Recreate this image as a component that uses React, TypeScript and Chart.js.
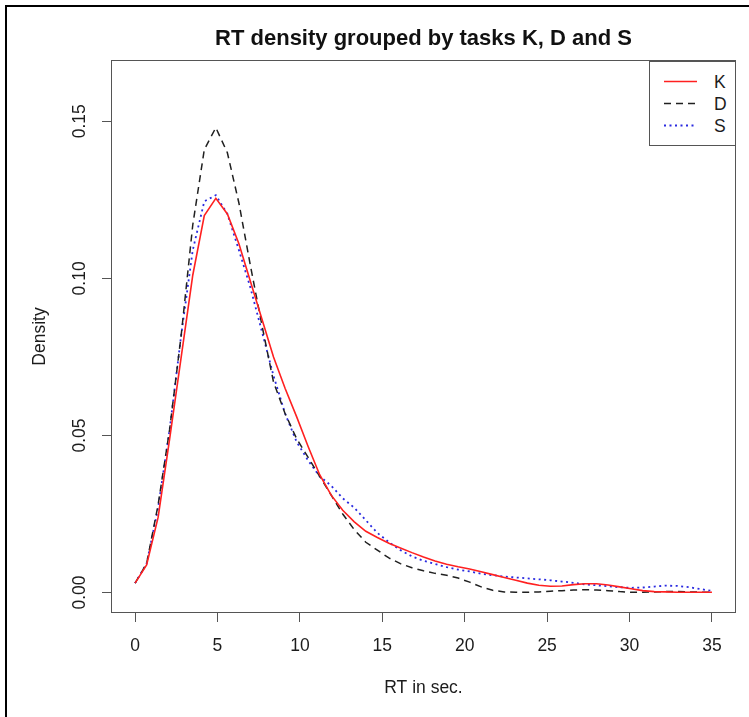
import React, { useEffect, useRef } from "react";
import { Chart, registerables } from "chart.js";

Chart.register(...registerables);

const TITLE = "RT density grouped by tasks K, D and S";
const X_TITLE = "RT in sec.";
const Y_TITLE = "Density";

const seriesNames = ["K", "D", "S"];

const rtGrid = [
  0, 0.7, 1.4, 2.1, 2.8, 3.5, 4.2, 4.9, 5.6, 6.3, 7.0, 7.7, 8.4, 9.1, 9.8, 10.5,
  11.2, 11.9, 12.6, 13.3, 14.0, 14.7, 15.4, 16.1, 16.8, 17.5, 18.2, 18.9, 19.6,
  20.3, 21.0, 21.7, 22.4, 23.1, 23.8, 24.5, 25.2, 25.9, 26.6, 27.3, 28.0, 28.7,
  29.4, 30.1, 30.8, 31.5, 32.2, 32.9, 33.6, 34.3, 35.0,
];

const densityK = [
  0.003, 0.0088, 0.024, 0.049, 0.075, 0.101, 0.12, 0.1255, 0.1205, 0.111,
  0.099, 0.087, 0.075, 0.065, 0.056, 0.0465, 0.0375, 0.031, 0.0262, 0.0225,
  0.0195, 0.0175, 0.0157, 0.0142, 0.0127, 0.0113, 0.01, 0.009, 0.0082, 0.0075,
  0.0066, 0.0057, 0.0048, 0.0039, 0.003, 0.0023, 0.002, 0.0021, 0.0025, 0.0028,
  0.0028, 0.0024, 0.0018, 0.0012, 0.0006, 0.0003, 0.0002, 0.0001, 0.0001, 0.0001,
  0.0001,
];

const densityD = [
  0.003, 0.0092, 0.028, 0.052, 0.082, 0.117, 0.141, 0.148, 0.14, 0.124,
  0.104, 0.085, 0.067, 0.057, 0.049, 0.043, 0.037, 0.031, 0.025, 0.02,
  0.016, 0.0135, 0.011, 0.0092, 0.0079, 0.0069, 0.0061, 0.0055, 0.0046, 0.0033,
  0.0018, 0.0007, 0.0002, 0.0001, 0.0001, 0.0002, 0.0004, 0.0006, 0.0008, 0.0009,
  0.0008, 0.0006, 0.0003, 0.0001, 0.0001, 0.0002, 0.0003, 0.0003, 0.0002, 0.0001,
  0.0001,
];

const densityS = [
  0.003, 0.0092, 0.027, 0.052, 0.082, 0.109, 0.1245, 0.1265, 0.1205, 0.109,
  0.097, 0.083, 0.069, 0.057, 0.048, 0.042, 0.037, 0.034, 0.03, 0.027,
  0.023, 0.019, 0.016, 0.0135, 0.0115, 0.0101, 0.0091, 0.0081, 0.0073, 0.0067,
  0.006, 0.0055, 0.0051, 0.0048, 0.0045, 0.0042, 0.0039, 0.0035, 0.0031, 0.0026,
  0.0023, 0.002, 0.0017, 0.0015, 0.0016, 0.0019, 0.0022, 0.0021, 0.0017, 0.0011,
  0.0005,
];

const xTicks = [0, 5, 10, 15, 20, 25, 30, 35];
const xTickLabels = ["0", "5", "10", "15", "20", "25", "30", "35"];
const yTicks = [0, 0.05, 0.1, 0.15];
const yTickLabels = ["0.00", "0.05", "0.10", "0.15"];

const seriesColors = ["#ff2020", "#202020", "#2a2ae0"];
const seriesDash: number[][] = [[], [7, 5], [2, 3.5]];
const seriesWidth = [1.6, 1.5, 1.8];

const FONT = '"Liberation Sans", Arial, Helvetica, sans-serif';
const TEXT_COLOR = "#1c1c1c";
const AXIS_COLOR = "#555555";
const LABEL_SIZE = 17.5;

const W = 749;
const H = 717;
const PLOT_LEFT = 112;
const PLOT_TOP = 61;
const PLOT_RIGHT = 735;
const PLOT_BOTTOM = 612;

const boxPlugin = {
  id: "plotBox",
  afterDraw(chart: any) {
    const { ctx, chartArea } = chart;
    ctx.save();
    ctx.strokeStyle = AXIS_COLOR;
    ctx.lineWidth = 1;
    ctx.setLineDash([]);
    const l = Math.round(chartArea.left) - 0.5;
    const t = Math.round(chartArea.top) - 0.5;
    const r = Math.round(chartArea.right) + 0.5;
    const b = Math.round(chartArea.bottom) + 0.5;
    ctx.strokeRect(l, t, r - l, b - t);
    ctx.restore();
  },
};

export default function App() {
  const canvasRef = useRef<HTMLCanvasElement | null>(null);

  useEffect(() => {
    const canvas = canvasRef.current;
    if (!canvas) return;
    const seriesValues = [densityK, densityD, densityS];
    const chart = new Chart(canvas, {
      type: "line",
      data: {
        datasets: seriesNames.map((name, i) => ({
          label: name,
          data: rtGrid.map((x, j) => ({ x, y: seriesValues[i][j] })),
          borderColor: seriesColors[i],
          backgroundColor: seriesColors[i],
          borderWidth: seriesWidth[i],
          borderDash: seriesDash[i],
          pointRadius: 0,
          tension: 0,
          fill: false,
        })),
      },
      options: {
        responsive: false,
        animation: false,
        devicePixelRatio: 1,
        layout: { padding: { left: 0, right: W - PLOT_RIGHT, top: 0, bottom: 0 } },
        plugins: {
          legend: { display: false },
          tooltip: { enabled: false },
          title: {
            display: true,
            text: TITLE,
            fullSize: false,
            color: "#111111",
            font: { family: FONT, size: 22, weight: "bold", lineHeight: 1.2 },
            padding: { top: 25.8, bottom: PLOT_TOP - 25.8 - 22 * 1.2 },
          },
        },
        scales: {
          x: {
            type: "linear",
            min: -1.4,
            max: 36.4,
            afterFit: (s: any) => {
              s.height = H - PLOT_BOTTOM;
            },
            afterBuildTicks: (s: any) => {
              s.ticks = xTicks.map((v) => ({ value: v }));
            },
            grid: {
              display: true,
              drawOnChartArea: false,
              drawTicks: true,
              tickLength: 10,
              tickColor: AXIS_COLOR,
              tickWidth: 1,
            },
            border: { display: false },
            ticks: {
              autoSkip: false,
              maxRotation: 0,
              minRotation: 0,
              padding: 14,
              color: TEXT_COLOR,
              font: { family: FONT, size: LABEL_SIZE },
              callback: (_v: any, i: number) => xTickLabels[i],
            },
            title: {
              display: true,
              text: X_TITLE,
              color: TEXT_COLOR,
              font: { family: FONT, size: LABEL_SIZE },
              padding: { top: 0, bottom: 18.5 },
            },
          },
          y: {
            type: "linear",
            min: -0.0062,
            max: 0.1692,
            afterFit: (s: any) => {
              s.width = PLOT_LEFT;
            },
            afterBuildTicks: (s: any) => {
              s.ticks = yTicks.map((v) => ({ value: v }));
            },
            grid: {
              display: true,
              drawOnChartArea: false,
              drawTicks: true,
              tickLength: 10,
              tickColor: AXIS_COLOR,
              tickWidth: 1,
            },
            border: { display: false },
            ticks: {
              autoSkip: false,
              minRotation: 90,
              maxRotation: 90,
              crossAlign: "center",
              padding: 4.5,
              color: TEXT_COLOR,
              font: { family: FONT, size: LABEL_SIZE },
              callback: (_v: any, i: number) => yTickLabels[i],
            },
            title: {
              display: true,
              text: Y_TITLE,
              color: TEXT_COLOR,
              font: { family: FONT, size: LABEL_SIZE },
              padding: { top: 29.5, bottom: 0 },
            },
          },
        },
      },
      plugins: [boxPlugin],
    } as any);
    return () => chart.destroy();
  }, []);

  const legendTop = PLOT_TOP;
  const legendLeft = 649;
  const legendW = PLOT_RIGHT - legendLeft + 1;
  const legendH = 85;
  const rowY = [20, 42, 64];

  return (
    <div
      style={{
        position: "absolute",
        left: 0,
        top: 0,
        width: W,
        height: H,
        overflow: "hidden",
        background: "#ffffff",
      }}
    >
      <canvas
        ref={canvasRef}
        width={W}
        height={H}
        style={{ position: "absolute", left: 0, top: 0, width: W, height: H }}
      />
      <div
        style={{
          position: "absolute",
          left: 5,
          top: 5,
          width: W + 20,
          height: H + 20,
          borderLeft: "2px solid #000",
          borderTop: "2px solid #000",
          pointerEvents: "none",
        }}
      />
      <div
        style={{
          position: "absolute",
          left: legendLeft,
          top: legendTop,
          width: legendW,
          height: legendH,
          border: `1px solid ${AXIS_COLOR}`,
          boxSizing: "border-box",
          background: "#ffffff",
          fontFamily: FONT,
          fontSize: LABEL_SIZE,
          color: TEXT_COLOR,
        }}
      >
        <svg
          width={legendW}
          height={legendH}
          style={{ position: "absolute", left: -1, top: -1 }}
        >
          {seriesNames.map((name, i) => (
            <line
              key={name}
              x1={15}
              x2={48}
              y1={rowY[i] + 0.5}
              y2={rowY[i] + 0.5}
              stroke={seriesColors[i]}
              strokeWidth={seriesWidth[i]}
              strokeDasharray={seriesDash[i].length ? seriesDash[i].join(" ") : undefined}
            />
          ))}
        </svg>
        {seriesNames.map((name, i) => (
          <span
            key={name}
            style={{
              position: "absolute",
              left: 64,
              top: rowY[i] - 11,
              height: 22,
              lineHeight: "22px",
              whiteSpace: "nowrap",
            }}
          >
            {name}
          </span>
        ))}
      </div>
    </div>
  );
}
